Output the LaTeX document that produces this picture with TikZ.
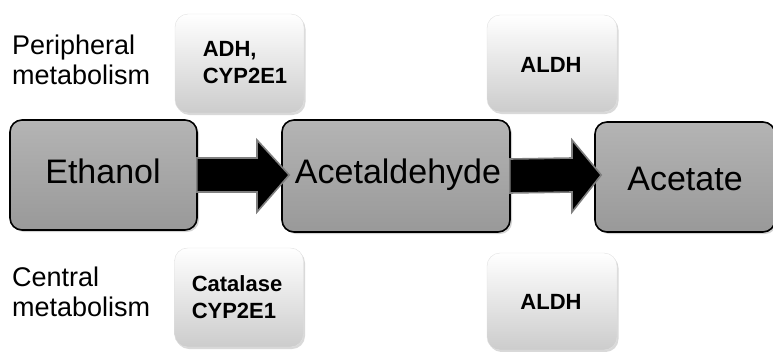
\documentclass[tikz,border=0pt]{standalone}
\usepackage{fontspec}
\setmainfont{Liberation Sans}
\usetikzlibrary{shadows,calc}
\definecolor{mainlight}{HTML}{B4B4B4}
\definecolor{maindark}{HTML}{999999}
\definecolor{enzdark}{HTML}{CCCCCC}
\definecolor{arrowedge}{HTML}{7F7F7F}
\tikzset{
  mainbox/.style={draw=black, line width=1.6pt, rounded corners=12pt,
    top color=mainlight, bottom color=maindark,
    drop shadow={opacity=0.35, shadow xshift=2pt, shadow yshift=-2pt},
    inner sep=0pt},
  maintext/.style={font=\fontsize{34}{38}\selectfont, inner sep=0pt},
  enzbox/.style={draw=white!88!black, line width=0.4pt, rounded corners=13pt,
    top color=white, bottom color=enzdark,
    drop shadow={opacity=0.3, shadow xshift=1.5pt, shadow yshift=-2pt},
    inner sep=0pt},
  enztext/.style={font=\bfseries\fontsize{22}{27}\selectfont, align=left, inner sep=0pt},
  sidelabel/.style={font=\fontsize{27}{30}\selectfont, align=left, anchor=west, inner sep=0pt},
  fatarrow/.style={fill=black, draw=arrowedge, line width=1.6pt, line join=miter}
}
\begin{document}
\begin{tikzpicture}[x=1pt,y=-1pt]
\useasboundingbox (0,0) rectangle (773,351);
% main nodes
\node[mainbox, minimum width=187pt, minimum height=110pt] (eth) at (103.5,175) {};
\node[mainbox, minimum width=228pt, minimum height=112pt] (acd) at (396,176) {};
\node[mainbox, minimum width=180pt, minimum height=110pt] (act) at (685,177) {};
% arrows
\draw[fatarrow] ($(eth.east)+(-1,-17)$) -- (257,158) -- (257,140) -- ($(acd.west)+(8,-1)$)
  -- (257,212) -- (257,192) -- ($(eth.east)+(-1,17)$) -- cycle;
\draw[fatarrow] ($(acd.east)+(-1,-17)$) -- (572,158) -- (572,140) -- ($(act.west)+(7,-2)$)
  -- (572,212) -- (572,192) -- ($(acd.east)+(-1,17)$) -- cycle;
% main texts
\node[maintext] (teth) at (103,171) {Ethanol};
\node[maintext] (tacd) at (398,175) {Acetaldehyde};
\node[maintext] (tact) at (685,179) {Acetate};
% enzyme boxes
\node[enzbox, minimum width=129pt, minimum height=99pt] (e1) at (239.5,63.5) {};
\node[enzbox, minimum width=130pt, minimum height=97pt] (e2) at (552,63.5) {};
\node[enzbox, minimum width=129pt, minimum height=99pt] (e3) at (239,297.5) {};
\node[enzbox, minimum width=130pt, minimum height=97pt] (e4) at (552,301.5) {};
\node[enztext] (te1) at (245,63) {ADH,\\CYP2E1};
\node[enztext] (te2) at (551,65) {ALDH};
\node[enztext] (te3) at (237,297) {Catalase\\CYP2E1};
\node[enztext] (te4) at (551,302) {ALDH};
% side labels
\node[sidelabel] (per) at (12,60) {Peripheral\\metabolism};
\node[sidelabel] (cen) at (12,292) {Central\\metabolism};
\end{tikzpicture}
\end{document}
